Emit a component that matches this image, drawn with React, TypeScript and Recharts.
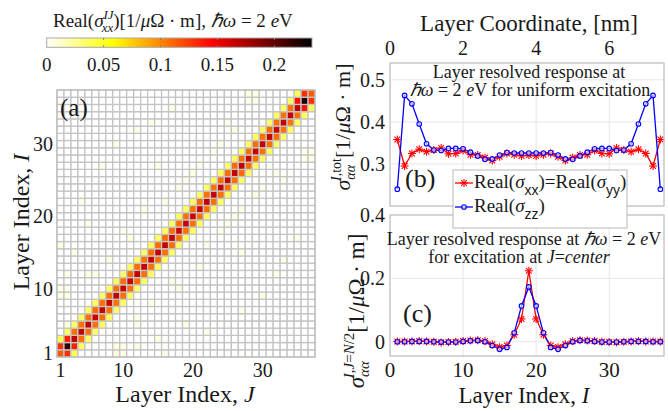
import React from 'react'
import { ScatterChart, Scatter, XAxis, YAxis, LineChart, Line, CartesianGrid } from 'recharts'

const FONT = "'Liberation Serif', 'Times New Roman', serif"
const SANS = "'Liberation Sans', Arial, sans-serif"
const INK = '#1a1a1a'

// layer indices 1..37
const layers = [
  1, 2, 3, 4, 5, 6, 7, 8, 9, 10, 11, 12, 13, 14, 15, 16, 17, 18, 19,
  20, 21, 22, 23, 24, 25, 26, 27, 28, 29, 30, 31, 32, 33, 34, 35, 36, 37
]

// (b) uniform excitation
const totXX = [
  0.358, 0.295, 0.325, 0.335, 0.329, 0.333, 0.338, 0.324, 0.325, 0.332, 0.322, 0.321, 0.315,
  0.308, 0.317, 0.325, 0.322, 0.319, 0.321, 0.319, 0.322, 0.325, 0.317, 0.308, 0.315, 0.321,
  0.322, 0.332, 0.325, 0.324, 0.338, 0.333, 0.329, 0.335, 0.325, 0.295, 0.358
]
const totZZ = [
  0.240, 0.463, 0.443, 0.395, 0.348, 0.333, 0.332, 0.337, 0.337, 0.336, 0.328, 0.319, 0.311,
  0.312, 0.321, 0.327, 0.326, 0.326, 0.326, 0.326, 0.326, 0.327, 0.321, 0.312, 0.311, 0.319,
  0.328, 0.336, 0.337, 0.337, 0.332, 0.333, 0.348, 0.395, 0.443, 0.463, 0.240
]

// (c) excitation at J = center
const centerXX = [
  0.001, 0.001, 0.001, 0.002, 0.001, 0.000, -0.002, -0.001, 0.000, 0.002, 0.004, 0.005, 0.002,
  -0.008, -0.017, -0.012, 0.022, 0.072, 0.224, 0.072, 0.022, -0.012, -0.017, -0.008, 0.002,
  0.005, 0.004, 0.002, 0.000, -0.001, -0.002, 0.000, 0.001, 0.002, 0.001, 0.001, 0.001
]
const centerZZ = [
  0.000, 0.000, 0.001, 0.001, 0.001, 0.000, -0.001, -0.001, -0.001, 0.001, 0.003, 0.004, 0.000,
  -0.012, -0.024, -0.018, 0.028, 0.113, 0.173, 0.113, 0.028, -0.018, -0.024, -0.012, 0.000,
  0.004, 0.003, 0.001, -0.001, -0.001, -0.001, 0.000, 0.001, 0.001, 0.001, 0.000, 0.000
]

// (a) matrix bands (symmetric matrix)
const band0 = [
  0.115, 0.218, 0.168, 0.165, 0.166, 0.164, 0.165, 0.166, 0.165, 0.164, 0.165, 0.166, 0.165,
  0.164, 0.165, 0.166, 0.165, 0.164, 0.165, 0.164, 0.165, 0.166, 0.165, 0.164, 0.165, 0.166,
  0.165, 0.164, 0.165, 0.166, 0.165, 0.164, 0.165, 0.166, 0.168, 0.225, 0.115
]
const band1 = [
  0.130, 0.135, 0.108, 0.107, 0.108, 0.109, 0.108, 0.107, 0.108, 0.108, 0.109, 0.108,
  0.107, 0.108, 0.108, 0.109, 0.108, 0.107, 0.108, 0.108, 0.109, 0.108, 0.107, 0.108,
  0.108, 0.109, 0.108, 0.107, 0.108, 0.108, 0.109, 0.108, 0.107, 0.108, 0.140, 0.130
]
const band2 = [
  0.040, 0.036, 0.036, 0.035, 0.036, 0.036, 0.035, 0.036, 0.036, 0.035, 0.036, 0.036,
  0.035, 0.036, 0.036, 0.035, 0.036, 0.036, 0.035, 0.036, 0.036, 0.035, 0.036, 0.036,
  0.035, 0.036, 0.036, 0.035, 0.036, 0.036, 0.035, 0.036, 0.036, 0.036, 0.040
]
const FAINT = 0.006
const faintPairs = [
  [1, 9], [2, 9], [1, 10], [2, 10], [2, 5], [2, 12], [5, 12], [10, 18], [12, 32], [28, 37],
  [29, 37], [29, 36], [28, 36], [11, 17], [13, 21], [19, 25], [21, 27], [6, 12], [8, 14],
  [16, 22], [24, 30], [26, 32], [3, 15], [4, 22], [7, 27], [14, 33], [17, 35], [25, 33],
  [23, 29], [9, 30], [15, 27], [18, 24], [20, 26], [1, 16], [5, 19]
]

const colorbarTicks = [0, 0.05, 0.1, 0.15, 0.2]
const CMAX = 0.233

// build tables
const bData = layers.map((i, k) => ({ i, xx: totXX[k], zz: totZZ[k] }))
const cData = layers.map((i, k) => ({ i, xx: centerXX[k], zz: centerZZ[k] }))

const matrix: number[][] = layers.map(() => layers.map(() => 0))
faintPairs.forEach(([a, b]) => {
  matrix[a - 1][b - 1] = FAINT
  matrix[b - 1][a - 1] = FAINT
})
band0.forEach((v, k) => { matrix[k][k] = v })
band1.forEach((v, k) => { matrix[k][k + 1] = v; matrix[k + 1][k] = v })
band2.forEach((v, k) => { matrix[k][k + 2] = v; matrix[k + 2][k] = v })
const cells: { x: number; y: number; v: number }[] = []
layers.forEach((row, r) => layers.forEach((col, c) => cells.push({ x: col, y: row, v: matrix[r][c] })))

// flipped "hot" colormap
function hotFlip(v: number) {
  const t = Math.max(0, Math.min(1, v / CMAX))
  const s = 1 - t
  const r = Math.min(1, s / 0.375)
  const g = Math.max(0, Math.min(1, (s - 0.375) / 0.375))
  const b = Math.max(0, Math.min(1, (s - 0.75) / 0.25))
  const h = (x: number) => Math.round(x * 255)
  return `rgb(${h(r)},${h(g)},${h(b)})`
}

const HM = { left: 57, top: 90, right: 315, bottom: 357 }
const CW = (HM.right - HM.left) / 37
const CH = (HM.bottom - HM.top) / 37

const HeatCell = (props: any) => {
  const { cx, cy, payload } = props
  if (cx == null || cy == null) return null
  return (
    <rect x={cx - CW / 2} y={cy - CH / 2} width={CW} height={CH}
      fill={hotFlip(payload.v)} stroke="#c4c4c4" strokeWidth={1.3} />
  )
}

const StarDot = (props: any) => {
  const { cx, cy, index } = props
  if (cx == null || cy == null) return <g key={index} />
  const r = 4
  const d = r * 0.72
  return (
    <g key={index} stroke="#ff0000" strokeWidth={1.1}>
      <line x1={cx - r} y1={cy} x2={cx + r} y2={cy} />
      <line x1={cx} y1={cy - r} x2={cx} y2={cy + r} />
      <line x1={cx - d} y1={cy - d} x2={cx + d} y2={cy + d} />
      <line x1={cx - d} y1={cy + d} x2={cx + d} y2={cy - d} />
    </g>
  )
}

const CircleDot = (props: any) => {
  const { cx, cy, index } = props
  if (cx == null || cy == null) return <g key={index} />
  return <circle key={index} cx={cx} cy={cy} r={2.3} fill="#ffffff" fillOpacity={0.6} stroke="#0000ff" strokeWidth={1.1} />
}

const tickStyle = (size: number) => ({ fontSize: size, fill: INK, fontFamily: FONT })

function HeatmapPanel() {
  return (
    <div style={{ position: 'absolute', left: 0, top: 0 }}>
      <ScatterChart width={330} height={411} margin={{ top: HM.top, right: 330 - HM.right, bottom: 0, left: 0 }}>
        <XAxis type="number" dataKey="x" domain={[0.5, 37.5]} ticks={[1, 10, 20, 30]}
          height={411 - HM.bottom} tickSize={0} tickMargin={6} axisLine={false} tick={tickStyle(20)} />
        <YAxis type="number" dataKey="y" domain={[0.5, 37.5]} ticks={[1, 10, 20, 30]}
          width={HM.left} tickSize={0} tickMargin={4} axisLine={false} tick={tickStyle(20)} />
        <Scatter data={cells} shape={HeatCell} isAnimationActive={false} />
      </ScatterChart>
    </div>
  )
}

function PanelB() {
  return (
    <div style={{ position: 'absolute', left: 330, top: 0 }}>
      <LineChart width={338} height={215} data={bData} margin={{ top: 33, right: 4, bottom: 9, left: 0 }}>
        <CartesianGrid stroke="#e6e6e6" />
        <XAxis dataKey="i" type="number" orientation="top" domain={[0, 37.5]} ticks={[0, 10, 20, 30]}
          tickFormatter={(v) => String(v / 5)} height={30} tickSize={0} tickMargin={8}
          axisLine={false} tick={tickStyle(20)} />
        <YAxis type="number" domain={[0.2, 0.54]} ticks={[0.3, 0.4, 0.5]} width={60}
          tickSize={0} tickMargin={5} axisLine={false} tick={tickStyle(20)} />
        <Line dataKey="xx" stroke="#ff0000" strokeWidth={1.3} dot={StarDot} isAnimationActive={false} />
        <Line dataKey="zz" stroke="#0000ff" strokeWidth={1.3} dot={CircleDot} isAnimationActive={false} />
      </LineChart>
    </div>
  )
}

function PanelC() {
  return (
    <div style={{ position: 'absolute', left: 330, top: 200 }}>
      <LineChart width={338} height={211} data={cData} margin={{ top: 15, right: 4, bottom: 25, left: 0 }}>
        <CartesianGrid stroke="#e6e6e6" />
        <XAxis dataKey="i" type="number" domain={[0, 37.5]} ticks={[0, 10, 20, 30]}
          height={30} tickSize={0} tickMargin={6} axisLine={false} tick={tickStyle(21)} />
        <YAxis type="number" domain={[-0.045, 0.4]} ticks={[0, 0.2, 0.4]} width={60}
          tickSize={0} tickMargin={5} axisLine={false} tick={tickStyle(20)} />
        <Line dataKey="xx" stroke="#ff0000" strokeWidth={1.3} dot={StarDot} isAnimationActive={false} />
        <Line dataKey="zz" stroke="#0000ff" strokeWidth={1.3} dot={CircleDot} isAnimationActive={false} />
      </LineChart>
    </div>
  )
}

const CB = { x: 46.7, y: 38, w: 265.3, h: 9.3 }
const gradStops = Array.from({ length: 41 }, (_, k) => k / 40)

function Overlay() {
  const cbx = (v: number) => CB.x + (v / CMAX) * CB.w
  return (
    <svg width={668} height={411} style={{ position: 'absolute', left: 0, top: 0, pointerEvents: 'none' }}
      fontFamily={FONT} fill={INK}>
      <defs>
        <linearGradient id="hotg" x1="0" x2="1" y1="0" y2="0">
          {gradStops.map((s) => <stop key={s} offset={s} stopColor={hotFlip(s * CMAX)} />)}
        </linearGradient>
      </defs>
      {/* frames */}
      <rect x={HM.left} y={HM.top} width={HM.right - HM.left} height={HM.bottom - HM.top} fill="none" stroke="#b8b8b8" strokeWidth={1} />
      <rect x={390} y={63} width={274} height={143} fill="none" stroke="#b8b8b8" strokeWidth={1} />
      <rect x={390} y={215} width={274} height={141} fill="none" stroke="#b8b8b8" strokeWidth={1} />

      {/* colorbar */}
      <rect x={CB.x} y={CB.y} width={CB.w} height={CB.h} fill="url(#hotg)" stroke="#a8a8a8" strokeWidth={1} />
      {colorbarTicks.map((t) => (
        <g key={t}>
          {t > 0 && <line x1={cbx(t)} x2={cbx(t)} y1={CB.y} y2={CB.y + 2} stroke="#808080" />}
          {t > 0 && <line x1={cbx(t)} x2={cbx(t)} y1={CB.y + CB.h - 2} y2={CB.y + CB.h} stroke="#808080" />}
          <text x={cbx(t)} y={71} fontSize={19} textAnchor="middle">{String(t)}</text>
        </g>
      ))}
      <text x={53} y={27} fontSize={19}>
        Real(<tspan fontStyle="italic">σ</tspan>
        <tspan fontSize={13} fontStyle="italic" dy={-8}>IJ</tspan>
        <tspan fontSize={13} fontStyle="italic" dx={-12} dy={13}>xx</tspan>
        <tspan dy={-5}>)[1/</tspan><tspan fontStyle="italic">μ</tspan>Ω · m], <tspan fontStyle="italic">ℏω</tspan> = 2 <tspan fontStyle="italic">e</tspan>V
      </text>

      {/* heatmap labels */}
      <text x={60} y={116} fontSize={25}>(a)</text>
      <text x={185} y={402} fontSize={24} textAnchor="middle">Layer Index, <tspan fontStyle="italic">J</tspan></text>
      <text transform="translate(29,222) rotate(-90)" fontSize={24} textAnchor="middle">Layer Index, <tspan fontStyle="italic">I</tspan></text>

      {/* panel b texts */}
      <text x={529} y={31} fontSize={23} textAnchor="middle">Layer Coordinate, [nm]</text>
      <text x={529} y={78} fontSize={18} textAnchor="middle">Layer resolved response at</text>
      <text x={530} y={96} fontSize={18} textAnchor="middle">
        <tspan fontStyle="italic">ℏω</tspan> = 2 <tspan fontStyle="italic">e</tspan>V for uniform excitation
      </text>
      <text x={405} y={187} fontSize={26}>(b)</text>
      <text transform="translate(350,127) rotate(-90)" fontSize={22} textAnchor="middle">
        <tspan fontStyle="italic">σ</tspan>
        <tspan fontSize={14} fontStyle="italic" dy={5}>αα</tspan>
        <tspan fontSize={14} dx={-16} dy={-14}><tspan fontStyle="italic">I</tspan>,tot</tspan>
        <tspan dy={9}>[1/</tspan><tspan fontStyle="italic">μ</tspan><tspan>Ω · m]</tspan>
      </text>

      {/* panel c texts */}
      <text x={524} y={245} fontSize={18} textAnchor="middle">
        Layer resolved response at <tspan fontStyle="italic">ℏω</tspan> = 2 <tspan fontStyle="italic">e</tspan>V
      </text>
      <text x={519} y={263} fontSize={18} textAnchor="middle">
        for excitation at <tspan fontStyle="italic">J</tspan>=<tspan fontStyle="italic">center</tspan>
      </text>
      <text x={403} y={322} fontSize={26}>(c)</text>
      <text x={524} y={403} fontSize={23} textAnchor="middle">Layer Index, <tspan fontStyle="italic">I</tspan></text>
      <text transform="translate(364,311) rotate(-90)" fontSize={23} textAnchor="middle">
        <tspan fontStyle="italic">σ</tspan>
        <tspan fontSize={15} fontStyle="italic" dy={5}>αα</tspan>
        <tspan fontSize={15} dx={-17} dy={-15}><tspan fontStyle="italic">I</tspan>,<tspan fontStyle="italic">J</tspan>=<tspan fontStyle="italic">N</tspan>/2</tspan>
        <tspan dy={10}>[1/</tspan><tspan fontStyle="italic">μ</tspan><tspan>Ω · m]</tspan>
      </text>

      {/* legend */}
      <rect x={453} y={170} width={174} height={58} fill="#ffffff" stroke="#b8b8b8" strokeWidth={1} />
      <line x1={455} x2={473} y1={183} y2={183} stroke="#ff0000" strokeWidth={1.3} />
      <StarDot cx={464} cy={183} index="ls" />
      <text x={474} y={188} fontSize={19}>
        Real(<tspan fontStyle="italic">σ</tspan><tspan fontFamily={SANS} fontSize={14} dy={7}>xx</tspan>
        <tspan dy={-7}>)=Real(</tspan><tspan fontStyle="italic">σ</tspan><tspan fontFamily={SANS} fontSize={14} dy={7}>yy</tspan>
        <tspan dy={-7}>)</tspan>
      </text>
      <line x1={455} x2={473} y1={207} y2={207} stroke="#0000ff" strokeWidth={1.3} />
      <CircleDot cx={464} cy={207} index="lc" />
      <text x={474} y={212} fontSize={19}>
        Real(<tspan fontStyle="italic">σ</tspan><tspan fontFamily={SANS} fontSize={14} dy={7}>zz</tspan>
        <tspan dy={-7}>)</tspan>
      </text>
    </svg>
  )
}

export default function App() {
  return (
    <div style={{ position: 'absolute', left: 0, top: 0, width: 668, height: 411, background: '#ffffff', overflow: 'hidden', fontFamily: FONT }}>
      <HeatmapPanel />
      <PanelB />
      <PanelC />
      <Overlay />
    </div>
  )
}
